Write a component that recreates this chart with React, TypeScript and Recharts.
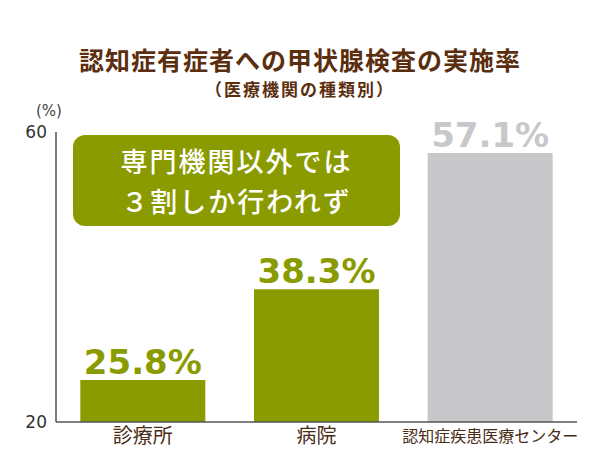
import { BarChart, Bar, XAxis, YAxis, Cell, LabelList } from 'recharts';

const categories = ['診療所', '病院', '認知症疾患医療センター'];
const rates = [25.8, 38.3, 57.1];
const barColors = ['#8a9b00', '#8a9b00', '#c8c8ca'];
const yTicks = [20, 60];

const data = categories.map((name, i) => ({ name, value: rates[i], color: barColors[i] }));

const JP = '"Noto Sans CJK JP", "Noto Sans", sans-serif';
const NUM = '"DejaVu Sans", Verdana, sans-serif';

function CategoryTick(props: any) {
  const { x, y, payload } = props;
  const long = payload.value.length > 5;
  return (
    <text
      x={x}
      y={y + (long ? 12 : 13)}
      textAnchor="middle"
      fill="#4a2c16"
      fontSize={long ? 16 : 20}
      fontFamily={JP}
    >
      {payload.value}
    </text>
  );
}

function ValueLabel(props: any) {
  const { x, y, width, value, index } = props;
  return (
    <text
      x={x + width / 2}
      y={y - 6}
      textAnchor="middle"
      fill={barColors[index]}
      fontSize={34}
      fontWeight="bold"
      fontFamily={NUM}
    >
      {value.toFixed(1)}%
    </text>
  );
}

export default function App() {
  return (
    <div style={{ position: 'absolute', left: 0, top: 0, width: 600, height: 450, background: '#fff' }}>
      <div
        style={{
          position: 'absolute', left: 0, width: 600, top: 46, textAlign: 'center',
          fontFamily: JP, fontWeight: 700, fontSize: 25, color: '#5a2e0e', lineHeight: '26px',
          letterSpacing: 1,
        }}
      >
        認知症有症者への甲状腺検査の実施率
      </div>
      <div
        style={{
          position: 'absolute', left: 0, width: 600, top: 80, textAlign: 'center',
          fontFamily: JP, fontWeight: 700, fontSize: 17, color: '#5a2e0e', lineHeight: '18px',
          letterSpacing: 2,
        }}
      >
        （医療機関の種類別）
      </div>
      <div
        style={{
          position: 'absolute', left: 36, top: 102, fontFamily: NUM, fontSize: 15, color: '#444',
        }}
      >
        (%)
      </div>
      <BarChart
        width={600}
        height={450}
        data={data}
        margin={{ top: 132, right: 23, bottom: 0, left: 0 }}
        barCategoryGap="14%"
      >
        <YAxis
          domain={[20, 60]}
          ticks={yTicks}
          width={56}
          axisLine={{ stroke: '#555', strokeWidth: 1.5 }}
          tickLine={false}
          tick={{ fill: '#333', fontSize: 17, fontFamily: NUM }}
          tickMargin={3}
          allowDataOverflow
        />
        <XAxis
          dataKey="name"
          height={28}
          axisLine={{ stroke: '#555', strokeWidth: 1.5 }}
          tickLine={false}
          tick={<CategoryTick />}
          interval={0}
        />
        <Bar dataKey="value" isAnimationActive={false}>
          {data.map((d) => (
            <Cell key={d.name} fill={d.color} />
          ))}
          <LabelList dataKey="value" content={<ValueLabel />} />
        </Bar>
      </BarChart>
      <div
        style={{
          position: 'absolute', left: 73, top: 135, width: 327, height: 91, borderRadius: 12,
          background: '#8a9b00', color: '#fff', fontFamily: JP, fontWeight: 500, fontSize: 27,
          lineHeight: '40px', textAlign: 'center', letterSpacing: 2,
          display: 'flex', flexDirection: 'column', justifyContent: 'center',
        }}
      >
        <div>専門機関以外では</div>
        <div>３割しか行われず</div>
      </div>
    </div>
  );
}
